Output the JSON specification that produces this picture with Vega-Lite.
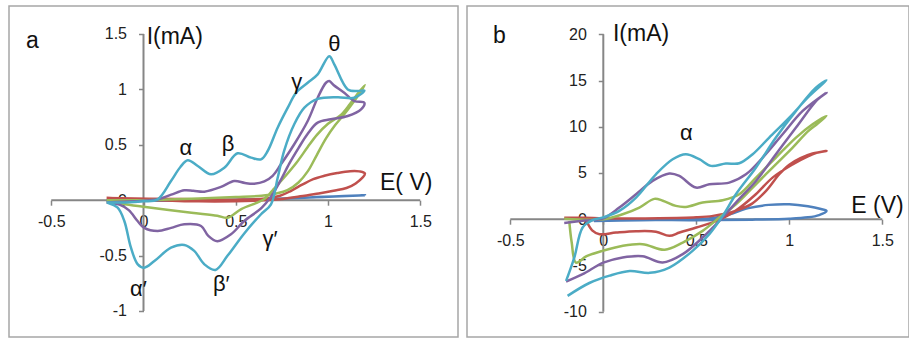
{
  "$schema": "https://vega.github.io/schema/vega-lite/v6.json",
  "padding": {"left": 8, "top": 5, "right": 0, "bottom": 0},
  "spacing": 7,
  "background": "white",
  "config": {
    "view": {"stroke": "#a6a6a6", "strokeWidth": 1.5},
    "font": "Liberation Sans",
    "axis": {"labelFont": "Liberation Sans", "grid": false, "domain": false, "ticks": true, "tickColor": "#868686", "tickWidth": 1.5, "tickSize": 5, "labelFontSize": 16, "labelColor": "#222222", "labelFlush": false, "labelOverlap": false, "title": null, "zindex": 1}
  },
  "datasets": {
    "ax_a": [{"v": -0.5, "v2": 1.5, "i": 0, "i2": 0}, {"v": 0, "v2": 0, "i": -1, "i2": 1.5}],
    "ax_b": [{"v": -0.5, "v2": 1.5, "i": 0, "i2": 0}, {"v": 0, "v2": 0, "i": -10, "i2": 20}],
    "cv_a": [
      {"s":"s1","t":0,"v":-0.2,"i":0},{"s":"s1","t":1,"v":0.2,"i":0},{"s":"s1","t":2,"v":0.6,"i":0.008},{"s":"s1","t":3,"v":0.9,"i":0.025},{"s":"s1","t":4,"v":1.2,"i":0.045},{"s":"s1","t":5,"v":1.0,"i":0.032},{"s":"s1","t":6,"v":0.6,"i":0.006},{"s":"s1","t":7,"v":0.2,"i":-0.003},{"s":"s1","t":8,"v":-0.2,"i":-0.005},
      {"s":"s2","t":0,"v":-0.2,"i":0.02},{"s":"s2","t":1,"v":0.0,"i":0.005},{"s":"s2","t":2,"v":0.3,"i":-0.01},{"s":"s2","t":3,"v":0.6,"i":-0.005},{"s":"s2","t":4,"v":0.75,"i":0.01},{"s":"s2","t":5,"v":0.85,"i":0.035},{"s":"s2","t":6,"v":0.95,"i":0.06},{"s":"s2","t":7,"v":1.03,"i":0.085},{"s":"s2","t":8,"v":1.1,"i":0.11},{"s":"s2","t":9,"v":1.15,"i":0.15},{"s":"s2","t":10,"v":1.2,"i":0.24},{"s":"s2","t":11,"v":1.17,"i":0.26},{"s":"s2","t":12,"v":1.12,"i":0.262},{"s":"s2","t":13,"v":1.05,"i":0.245},{"s":"s2","t":14,"v":0.98,"i":0.22},{"s":"s2","t":15,"v":0.92,"i":0.19},{"s":"s2","t":16,"v":0.86,"i":0.14},{"s":"s2","t":17,"v":0.8,"i":0.085},{"s":"s2","t":18,"v":0.74,"i":0.04},{"s":"s2","t":19,"v":0.66,"i":0.015},{"s":"s2","t":20,"v":0.5,"i":0.005},{"s":"s2","t":21,"v":0.2,"i":0.01},{"s":"s2","t":22,"v":-0.2,"i":0.02},
      {"s":"s3","t":0,"v":-0.2,"i":0},{"s":"s3","t":1,"v":0.0,"i":0},{"s":"s3","t":2,"v":0.3,"i":0.015},{"s":"s3","t":3,"v":0.5,"i":0.028},{"s":"s3","t":4,"v":0.64,"i":0.04},{"s":"s3","t":5,"v":0.72,"i":0.06},{"s":"s3","t":6,"v":0.78,"i":0.09},{"s":"s3","t":7,"v":0.84,"i":0.16},{"s":"s3","t":8,"v":0.89,"i":0.26},{"s":"s3","t":9,"v":0.94,"i":0.41},{"s":"s3","t":10,"v":0.99,"i":0.56},{"s":"s3","t":11,"v":1.04,"i":0.68},{"s":"s3","t":12,"v":1.09,"i":0.78},{"s":"s3","t":13,"v":1.14,"i":0.89},{"s":"s3","t":14,"v":1.2,"i":1.04},{"s":"s3","t":15,"v":1.17,"i":0.98},{"s":"s3","t":16,"v":1.12,"i":0.87},{"s":"s3","t":17,"v":1.07,"i":0.77},{"s":"s3","t":18,"v":1.0,"i":0.69},{"s":"s3","t":19,"v":0.94,"i":0.59},{"s":"s3","t":20,"v":0.89,"i":0.48},{"s":"s3","t":21,"v":0.83,"i":0.34},{"s":"s3","t":22,"v":0.76,"i":0.2},{"s":"s3","t":23,"v":0.7,"i":0.09},{"s":"s3","t":24,"v":0.655,"i":0.01},{"s":"s3","t":25,"v":0.53,"i":-0.08},{"s":"s3","t":26,"v":0.456,"i":-0.158},{"s":"s3","t":27,"v":0.4,"i":-0.14},{"s":"s3","t":28,"v":0.26,"i":-0.113},{"s":"s3","t":29,"v":0.0,"i":-0.06},{"s":"s3","t":30,"v":-0.1,"i":-0.037},{"s":"s3","t":31,"v":-0.2,"i":-0.01},
      {"s":"s4","t":0,"v":-0.2,"i":-0.02},{"s":"s4","t":1,"v":-0.05,"i":-0.01},{"s":"s4","t":2,"v":0.077,"i":0.008},{"s":"s4","t":3,"v":0.15,"i":0.05},{"s":"s4","t":4,"v":0.221,"i":0.089},{"s":"s4","t":5,"v":0.27,"i":0.085},{"s":"s4","t":6,"v":0.33,"i":0.077},{"s":"s4","t":7,"v":0.42,"i":0.12},{"s":"s4","t":8,"v":0.492,"i":0.173},{"s":"s4","t":9,"v":0.55,"i":0.155},{"s":"s4","t":10,"v":0.6,"i":0.149},{"s":"s4","t":11,"v":0.655,"i":0.17},{"s":"s4","t":12,"v":0.7,"i":0.22},{"s":"s4","t":13,"v":0.745,"i":0.324},{"s":"s4","t":14,"v":0.817,"i":0.505},{"s":"s4","t":15,"v":0.89,"i":0.715},{"s":"s4","t":16,"v":0.944,"i":0.925},{"s":"s4","t":17,"v":0.989,"i":1.06},{"s":"s4","t":18,"v":1.007,"i":1.076},{"s":"s4","t":19,"v":1.03,"i":1.04},{"s":"s4","t":20,"v":1.088,"i":0.97},{"s":"s4","t":21,"v":1.143,"i":0.895},{"s":"s4","t":22,"v":1.197,"i":0.88},{"s":"s4","t":23,"v":1.179,"i":0.82},{"s":"s4","t":24,"v":1.107,"i":0.76},{"s":"s4","t":25,"v":1.016,"i":0.73},{"s":"s4","t":26,"v":0.944,"i":0.7},{"s":"s4","t":27,"v":0.89,"i":0.6},{"s":"s4","t":28,"v":0.84,"i":0.47},{"s":"s4","t":29,"v":0.79,"i":0.33},{"s":"s4","t":30,"v":0.74,"i":0.17},{"s":"s4","t":31,"v":0.69,"i":0.03},{"s":"s4","t":32,"v":0.64,"i":-0.07},{"s":"s4","t":33,"v":0.546,"i":-0.188},{"s":"s4","t":34,"v":0.474,"i":-0.308},{"s":"s4","t":35,"v":0.4,"i":-0.37},{"s":"s4","t":36,"v":0.35,"i":-0.32},{"s":"s4","t":37,"v":0.312,"i":-0.233},{"s":"s4","t":38,"v":0.221,"i":-0.218},{"s":"s4","t":39,"v":0.15,"i":-0.25},{"s":"s4","t":40,"v":0.077,"i":-0.278},{"s":"s4","t":41,"v":0.004,"i":-0.25},{"s":"s4","t":42,"v":-0.031,"i":-0.19},{"s":"s4","t":43,"v":-0.08,"i":-0.09},{"s":"s4","t":44,"v":-0.13,"i":-0.04},{"s":"s4","t":45,"v":-0.2,"i":-0.02},
      {"s":"s5","t":0,"v":-0.2,"i":-0.02},{"s":"s5","t":1,"v":-0.1,"i":-0.02},{"s":"s5","t":2,"v":0.0,"i":-0.01},{"s":"s5","t":3,"v":0.077,"i":0.008},{"s":"s5","t":4,"v":0.149,"i":0.173},{"s":"s5","t":5,"v":0.2,"i":0.3},{"s":"s5","t":6,"v":0.24,"i":0.36},{"s":"s5","t":7,"v":0.294,"i":0.309},{"s":"s5","t":8,"v":0.366,"i":0.234},{"s":"s5","t":9,"v":0.438,"i":0.293},{"s":"s5","t":10,"v":0.51,"i":0.423},{"s":"s5","t":11,"v":0.583,"i":0.384},{"s":"s5","t":12,"v":0.637,"i":0.369},{"s":"s5","t":13,"v":0.673,"i":0.444},{"s":"s5","t":14,"v":0.727,"i":0.654},{"s":"s5","t":15,"v":0.782,"i":0.835},{"s":"s5","t":16,"v":0.827,"i":0.97},{"s":"s5","t":17,"v":0.89,"i":1.06},{"s":"s5","t":18,"v":0.944,"i":1.136},{"s":"s5","t":19,"v":1.007,"i":1.3},{"s":"s5","t":20,"v":1.034,"i":1.226},{"s":"s5","t":21,"v":1.107,"i":1.0},{"s":"s5","t":22,"v":1.16,"i":0.985},{"s":"s5","t":23,"v":1.197,"i":0.99},{"s":"s5","t":24,"v":1.143,"i":0.925},{"s":"s5","t":25,"v":1.052,"i":0.93},{"s":"s5","t":26,"v":0.944,"i":0.915},{"s":"s5","t":27,"v":0.872,"i":0.835},{"s":"s5","t":28,"v":0.817,"i":0.685},{"s":"s5","t":29,"v":0.763,"i":0.45},{"s":"s5","t":30,"v":0.727,"i":0.2},{"s":"s5","t":31,"v":0.691,"i":-0.037},{"s":"s5","t":32,"v":0.637,"i":-0.127},{"s":"s5","t":33,"v":0.546,"i":-0.3},{"s":"s5","t":34,"v":0.456,"i":-0.5},{"s":"s5","t":35,"v":0.39,"i":-0.63},{"s":"s5","t":36,"v":0.33,"i":-0.579},{"s":"s5","t":37,"v":0.275,"i":-0.458},{"s":"s5","t":38,"v":0.221,"i":-0.404},{"s":"s5","t":39,"v":0.149,"i":-0.429},{"s":"s5","t":40,"v":0.059,"i":-0.549},{"s":"s5","t":41,"v":0.004,"i":-0.609},{"s":"s5","t":42,"v":-0.031,"i":-0.579},{"s":"s5","t":43,"v":-0.068,"i":-0.429},{"s":"s5","t":44,"v":-0.104,"i":-0.188},{"s":"s5","t":45,"v":-0.14,"i":-0.068},{"s":"s5","t":46,"v":-0.194,"i":-0.023}
    ],
    "cv_b": [
      {"s":"s1","t":0,"v":-0.2,"i":0.05},{"s":"s1","t":1,"v":0.0,"i":0.0},{"s":"s1","t":2,"v":0.3,"i":0.0},{"s":"s1","t":3,"v":0.5,"i":0.02},{"s":"s1","t":4,"v":0.6,"i":0.15},{"s":"s1","t":5,"v":0.68,"i":0.54},{"s":"s1","t":6,"v":0.78,"i":1.2},{"s":"s1","t":7,"v":0.89,"i":1.55},{"s":"s1","t":8,"v":1.0,"i":1.62},{"s":"s1","t":9,"v":1.1,"i":1.4},{"s":"s1","t":10,"v":1.17,"i":1.1},{"s":"s1","t":11,"v":1.2,"i":0.9},{"s":"s1","t":12,"v":1.16,"i":0.45},{"s":"s1","t":13,"v":1.1,"i":0.2},{"s":"s1","t":14,"v":1.0,"i":0.05},{"s":"s1","t":15,"v":0.8,"i":-0.05},{"s":"s1","t":16,"v":0.5,"i":-0.1},{"s":"s1","t":17,"v":0.2,"i":-0.1},{"s":"s1","t":18,"v":-0.05,"i":-0.2},
      {"s":"s2","t":0,"v":-0.21,"i":0.15},{"s":"s2","t":1,"v":-0.1,"i":0.15},{"s":"s2","t":2,"v":0.0,"i":0.1},{"s":"s2","t":3,"v":0.3,"i":0.1},{"s":"s2","t":4,"v":0.5,"i":0.2},{"s":"s2","t":5,"v":0.59,"i":0.36},{"s":"s2","t":6,"v":0.71,"i":0.9},{"s":"s2","t":7,"v":0.8,"i":1.69},{"s":"s2","t":8,"v":0.875,"i":3.06},{"s":"s2","t":9,"v":0.946,"i":4.86},{"s":"s2","t":10,"v":1.0,"i":5.9},{"s":"s2","t":11,"v":1.06,"i":6.6},{"s":"s2","t":12,"v":1.125,"i":7.1},{"s":"s2","t":13,"v":1.2,"i":7.39},{"s":"s2","t":14,"v":1.15,"i":7.2},{"s":"s2","t":15,"v":1.1,"i":6.8},{"s":"s2","t":16,"v":1.02,"i":5.95},{"s":"s2","t":17,"v":0.91,"i":4.5},{"s":"s2","t":18,"v":0.82,"i":2.7},{"s":"s2","t":19,"v":0.71,"i":0.9},{"s":"s2","t":20,"v":0.61,"i":-0.18},{"s":"s2","t":21,"v":0.5,"i":-0.9},{"s":"s2","t":22,"v":0.41,"i":-1.44},{"s":"s2","t":23,"v":0.355,"i":-1.8},{"s":"s2","t":24,"v":0.283,"i":-1.35},{"s":"s2","t":25,"v":0.176,"i":-1.3},{"s":"s2","t":26,"v":0.068,"i":-1.45},{"s":"s2","t":27,"v":-0.02,"i":-1.62},{"s":"s2","t":28,"v":-0.06,"i":-1.2},{"s":"s2","t":29,"v":-0.09,"i":-0.2},
      {"s":"s3","t":0,"v":-0.21,"i":0.05},{"s":"s3","t":1,"v":0.0,"i":0.0},{"s":"s3","t":2,"v":0.104,"i":0.54},{"s":"s3","t":3,"v":0.194,"i":1.26},{"s":"s3","t":4,"v":0.274,"i":2.2},{"s":"s3","t":5,"v":0.32,"i":2.0},{"s":"s3","t":6,"v":0.39,"i":1.44},{"s":"s3","t":7,"v":0.444,"i":1.33},{"s":"s3","t":8,"v":0.534,"i":1.8},{"s":"s3","t":9,"v":0.642,"i":2.05},{"s":"s3","t":10,"v":0.731,"i":2.7},{"s":"s3","t":11,"v":0.821,"i":4.5},{"s":"s3","t":12,"v":0.928,"i":6.67},{"s":"s3","t":13,"v":1.036,"i":8.83},{"s":"s3","t":14,"v":1.125,"i":10.27},{"s":"s3","t":15,"v":1.2,"i":11.17},{"s":"s3","t":16,"v":1.15,"i":10.3},{"s":"s3","t":17,"v":1.1,"i":9.5},{"s":"s3","t":18,"v":1.018,"i":7.75},{"s":"s3","t":19,"v":0.91,"i":5.59},{"s":"s3","t":20,"v":0.803,"i":3.42},{"s":"s3","t":21,"v":0.713,"i":1.62},{"s":"s3","t":22,"v":0.624,"i":0.18},{"s":"s3","t":23,"v":0.534,"i":-1.26},{"s":"s3","t":24,"v":0.427,"i":-2.52},{"s":"s3","t":25,"v":0.33,"i":-3.3},{"s":"s3","t":26,"v":0.211,"i":-2.7},{"s":"s3","t":27,"v":0.1,"i":-2.9},{"s":"s3","t":28,"v":0.0,"i":-3.4},{"s":"s3","t":29,"v":-0.09,"i":-4.0},{"s":"s3","t":30,"v":-0.147,"i":-4.7},{"s":"s3","t":31,"v":-0.17,"i":-2.5},{"s":"s3","t":32,"v":-0.183,"i":-0.2},
      {"s":"s4","t":0,"v":-0.21,"i":-0.4},{"s":"s4","t":1,"v":-0.1,"i":-0.15},{"s":"s4","t":2,"v":0.0,"i":0.1},{"s":"s4","t":3,"v":0.086,"i":1.26},{"s":"s4","t":4,"v":0.176,"i":2.7},{"s":"s4","t":5,"v":0.265,"i":4.14},{"s":"s4","t":6,"v":0.355,"i":4.94},{"s":"s4","t":7,"v":0.409,"i":4.68},{"s":"s4","t":8,"v":0.498,"i":3.42},{"s":"s4","t":9,"v":0.57,"i":3.78},{"s":"s4","t":10,"v":0.677,"i":3.96},{"s":"s4","t":11,"v":0.767,"i":4.86},{"s":"s4","t":12,"v":0.857,"i":6.67},{"s":"s4","t":13,"v":0.964,"i":9.19},{"s":"s4","t":14,"v":1.072,"i":11.71},{"s":"s4","t":15,"v":1.2,"i":13.69},{"s":"s4","t":16,"v":1.15,"i":12.9},{"s":"s4","t":17,"v":1.036,"i":9.91},{"s":"s4","t":18,"v":0.928,"i":7.03},{"s":"s4","t":19,"v":0.821,"i":4.14},{"s":"s4","t":20,"v":0.713,"i":1.8},{"s":"s4","t":21,"v":0.624,"i":-0.18},{"s":"s4","t":22,"v":0.534,"i":-1.98},{"s":"s4","t":23,"v":0.427,"i":-3.78},{"s":"s4","t":24,"v":0.319,"i":-4.68},{"s":"s4","t":25,"v":0.211,"i":-4.0},{"s":"s4","t":26,"v":0.104,"i":-4.14},{"s":"s4","t":27,"v":0.0,"i":-4.7},{"s":"s4","t":28,"v":-0.111,"i":-5.95},{"s":"s4","t":29,"v":-0.2,"i":-6.74},
      {"s":"s5","t":0,"v":-0.2,"i":-6.67},{"s":"s5","t":1,"v":-0.156,"i":-4.15},{"s":"s5","t":2,"v":-0.111,"i":-0.9},{"s":"s5","t":3,"v":-0.057,"i":-0.1},{"s":"s5","t":4,"v":0.0,"i":0.2},{"s":"s5","t":5,"v":0.086,"i":0.9},{"s":"s5","t":6,"v":0.176,"i":2.34},{"s":"s5","t":7,"v":0.283,"i":4.86},{"s":"s5","t":8,"v":0.373,"i":6.49},{"s":"s5","t":9,"v":0.444,"i":7.03},{"s":"s5","t":10,"v":0.516,"i":6.49},{"s":"s5","t":11,"v":0.579,"i":5.77},{"s":"s5","t":12,"v":0.659,"i":6.02},{"s":"s5","t":13,"v":0.731,"i":6.05},{"s":"s5","t":14,"v":0.803,"i":7.03},{"s":"s5","t":15,"v":0.892,"i":8.83},{"s":"s5","t":16,"v":1.0,"i":10.99},{"s":"s5","t":17,"v":1.108,"i":13.33},{"s":"s5","t":18,"v":1.2,"i":15.03},{"s":"s5","t":19,"v":1.143,"i":14.23},{"s":"s5","t":20,"v":1.036,"i":11.71},{"s":"s5","t":21,"v":0.928,"i":8.83},{"s":"s5","t":22,"v":0.821,"i":5.59},{"s":"s5","t":23,"v":0.713,"i":2.7},{"s":"s5","t":24,"v":0.642,"i":0.36},{"s":"s5","t":25,"v":0.57,"i":-1.62},{"s":"s5","t":26,"v":0.48,"i":-3.42},{"s":"s5","t":27,"v":0.355,"i":-5.23},{"s":"s5","t":28,"v":0.25,"i":-5.8},{"s":"s5","t":29,"v":0.142,"i":-5.6},{"s":"s5","t":30,"v":0.034,"i":-6.1},{"s":"s5","t":31,"v":-0.075,"i":-6.9},{"s":"s5","t":32,"v":-0.192,"i":-8.29}
    ],
    "gr_a": [
      {"label":"α","v":0.23,"i":0.474},{"label":"β","v":0.458,"i":0.507},{"label":"θ","v":1.034,"i":1.407},{"label":"γ","v":0.831,"i":1.068},{"label":"γ′","v":0.686,"i":-0.346},{"label":"β′","v":0.422,"i":-0.752},{"label":"α′","v":-0.027,"i":-0.8}
    ],
    "ti_a": [
      {"label":"a","v":-0.637,"i":1.437},{"label":"I(mA)","v":0.017,"i":1.473},{"label":"E( V)","v":1.282,"i":0.151}
    ],
    "gr_b": [{"label":"α","v":0.446,"i":9.35}],
    "ti_b": [
      {"label":"b","v":-0.593,"i":19.81},{"label":"I(mA)","v":0.052,"i":20.08},{"label":"E (V)","v":1.333,"i":1.43}
    ]
  },
  "hconcat": [
    {
      "width": 449,
      "height": 331,
      "encoding": {
        "x": {"field": "v", "type": "quantitative", "scale": {"domain": [-0.729, 1.7046], "nice": false, "zero": false}, "axis": {"values": [-0.5, 0, 0.5, 1, 1.5], "offset": -136.8, "labelPadding": 8, "labelExpr": "'' + datum.value"}},
        "y": {"field": "i", "type": "quantitative", "scale": {"domain": [-1.2347, 1.7527], "nice": false, "zero": false}, "axis": {"values": [-1, -0.5, 0, 0.5, 1, 1.5], "offset": -134.5, "labelPadding": 12, "labelExpr": "'' + datum.value"}}
      },
      "layer": [
        {"data": {"name": "ax_a"}, "mark": {"type": "rule", "color": "#868686", "strokeWidth": 2}, "encoding": {"x2": {"field": "v2"}, "y2": {"field": "i2"}}},
        {"data": {"name": "cv_a"}, "mark": {"type": "line", "interpolate": "catmull-rom", "strokeWidth": 2.5}, "encoding": {"color": {"field": "s", "type": "nominal", "scale": {"domain": ["s1", "s2", "s3", "s4", "s5"], "range": ["#4F81BD", "#C0504D", "#9BBB59", "#8064A2", "#4BACC6"]}, "legend": null}, "order": {"field": "t", "type": "quantitative"}}},
        {"data": {"name": "gr_a"}, "mark": {"type": "text", "fontSize": 22, "align": "center", "baseline": "middle", "color": "#111111"}, "encoding": {"text": {"field": "label"}}},
        {"data": {"name": "ti_a"}, "mark": {"type": "text", "fontSize": 23, "align": "left", "baseline": "middle", "color": "#111111"}, "encoding": {"text": {"field": "label"}}}
      ]
    },
    {
      "width": 442,
      "height": 331,
      "encoding": {
        "x": {"field": "v", "type": "quantitative", "scale": {"domain": [-0.7328, 1.6435], "nice": false, "zero": false}, "axis": {"values": [-0.5, 0, 0.5, 1, 1.5], "offset": -117.8, "labelPadding": 8, "labelExpr": "'' + datum.value"}},
        "y": {"field": "i", "type": "quantitative", "scale": {"domain": [-12.74, 23.06], "nice": false, "zero": false}, "axis": {"values": [-10, -5, 0, 5, 10, 15, 20], "offset": -136.3, "labelPadding": 12, "labelExpr": "'' + datum.value"}}
      },
      "layer": [
        {"data": {"name": "ax_b"}, "mark": {"type": "rule", "color": "#868686", "strokeWidth": 2}, "encoding": {"x2": {"field": "v2"}, "y2": {"field": "i2"}}},
        {"data": {"name": "cv_b"}, "mark": {"type": "line", "interpolate": "catmull-rom", "strokeWidth": 2.5}, "encoding": {"color": {"field": "s", "type": "nominal", "scale": {"domain": ["s1", "s2", "s3", "s4", "s5"], "range": ["#4F81BD", "#C0504D", "#9BBB59", "#8064A2", "#4BACC6"]}, "legend": null}, "order": {"field": "t", "type": "quantitative"}}},
        {"data": {"name": "gr_b"}, "mark": {"type": "text", "fontSize": 22, "align": "center", "baseline": "middle", "color": "#111111"}, "encoding": {"text": {"field": "label"}}},
        {"data": {"name": "ti_b"}, "mark": {"type": "text", "fontSize": 23, "align": "left", "baseline": "middle", "color": "#111111"}, "encoding": {"text": {"field": "label"}}}
      ]
    }
  ],
  "resolve": {"scale": {"color": "independent"}}
}
